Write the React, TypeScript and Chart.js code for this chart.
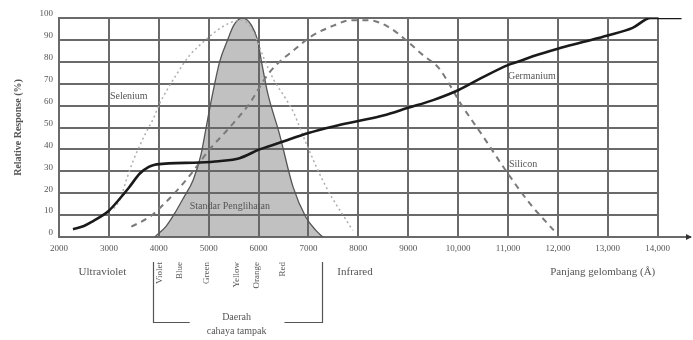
import React, { useEffect, useRef } from "react";
import { Chart, registerables } from "chart.js";

Chart.register(...registerables);

const FONT = "'Liberation Serif', 'DejaVu Serif', serif";
const TEXT = "#555";
const GRID = "#6a6a6a";

// axis ticks
const xTickValues = [2000, 3000, 4000, 5000, 6000, 7000, 8000, 9000, 10000, 11000, 12000, 13000, 14000];
const xTickLabels = ["2000", "3000", "4000", "5000", "6000", "7000", "8000", "9000", "10,000", "11,000", "12,000", "13,000", "14,000"];
const yTickValues = [0, 10, 20, 30, 40, 50, 60, 70, 80, 90, 100];

// Germanium (solid black)
const germaniumWavelength = [2280, 2500, 2700, 2850, 3000, 3200, 3400, 3620, 3800, 3920, 4200, 4820, 5200, 5620, 6020, 6420, 7000, 7500, 8000, 8500, 9000, 9500, 10000, 10500, 11000, 11200, 11500, 12000, 12500, 13000, 13500, 13860, 14480];
const germaniumResponse = [3.5, 5, 7.5, 9.5, 12, 17, 22.5, 29, 32, 33, 33.6, 34, 34.6, 36, 40, 43, 47.5, 50.5, 53, 55.5, 59, 62.5, 67, 73, 78.5, 80, 82.5, 86, 89, 92, 95.5, 100, 100];

// Silicon (dashed)
const siliconWavelength = [3450, 3820, 4220, 4620, 5020, 5420, 5820, 6150, 6350, 6690, 7050, 7500, 7850, 8200, 8600, 8950, 9300, 9620, 9820, 10050, 10500, 10950, 11450, 11920];
const siliconResponse = [4.7, 9.3, 17.7, 28, 40, 50, 61, 73, 78.5, 85, 91.5, 96.5, 99, 99, 96, 90, 83, 77, 70, 61, 46, 30.6, 15, 3];

// Selenium (dotted)
const seleniumWavelength = [3100, 3220, 3350, 3490, 3750, 3890, 4020, 4350, 4620, 4890, 5150, 5420, 5650, 5800, 5950, 6100, 6300, 6550, 6700, 6950, 7350, 7890];
const seleniumResponse = [13, 17, 26, 35, 48, 54, 61, 74, 83, 89, 94, 97.7, 99, 97, 91, 82, 72, 63, 57, 43, 23, 3];

// Standard eye response (filled)
const eyeWavelength = [3920, 4150, 4350, 4500, 4690, 4850, 4950, 5050, 5220, 5380, 5500, 5600, 5680, 5760, 5850, 5980, 6060, 6180, 6420, 6690, 6950, 7150, 7290];
const eyeResponse = [0, 5, 12, 18, 26, 38, 50, 62, 80, 90, 96.5, 99.3, 100, 99.3, 97, 90, 80, 66, 47, 23, 9, 3, 0];

// labels inside the plot
const curveLabelTexts = ["Selenium", "Germanium", "Silicon", "Standar Penglihatan"];
const curveLabelWavelengths = [3020, 11000, 11020, 4620];
const curveLabelResponses = [64, 73.5, 33, 14];

// visible spectrum labels
const visibleColors = ["Violet", "Blue", "Green", "Yellow", "Orange", "Red"];
const visibleColorWavelengths = [4020, 4420, 4960, 5560, 5960, 6480];

const toPoints = (xs: number[], ys: number[]) => xs.map((x, i) => ({ x, y: ys[i] }));

const decorPlugin = {
  id: "decor",
  beforeDatasetsDraw(chart: any) {
    const { ctx, scales } = chart;
    const x = scales.x;
    const y = scales.y;
    const x0 = x.getPixelForValue(xTickValues[0]);
    const x1 = x.getPixelForValue(xTickValues[xTickValues.length - 1]);
    ctx.save();
    ctx.strokeStyle = GRID;
    ctx.lineWidth = 2;
    for (const v of yTickValues) {
      if (v === 0) continue;
      const py = Math.round(y.getPixelForValue(v));
      ctx.beginPath();
      ctx.moveTo(x0 - 1, py);
      ctx.lineTo(x1 + 1, py);
      ctx.stroke();
    }
    ctx.restore();
  },
  afterDatasetsDraw(chart: any) {
    const { ctx, scales } = chart;
    const x = scales.x;
    const y = scales.y;
    ctx.save();
    ctx.fillStyle = TEXT;
    ctx.font = `10px ${FONT}`;
    ctx.textAlign = "left";
    ctx.textBaseline = "middle";
    curveLabelTexts.forEach((t, i) => {
      ctx.fillText(t, x.getPixelForValue(curveLabelWavelengths[i]), y.getPixelForValue(curveLabelResponses[i]));
    });
    ctx.restore();
  },
  afterDraw(chart: any) {
    const { ctx, scales, chartArea } = chart;
    const x = scales.x;
    const b = chartArea.bottom;
    ctx.save();
    // arrow at the end of the x axis
    const ax = chartArea.right;
    ctx.fillStyle = "#333";
    ctx.beginPath();
    ctx.moveTo(ax + 2, b);
    ctx.lineTo(ax - 4, b - 3);
    ctx.lineTo(ax - 4, b + 3);
    ctx.closePath();
    ctx.fill();

    ctx.fillStyle = TEXT;
    ctx.font = `11px ${FONT}`;
    ctx.textBaseline = "middle";
    ctx.textAlign = "center";
    ctx.fillText("Ultraviolet", x.getPixelForValue(2870), b + 35);
    ctx.textAlign = "left";
    ctx.fillText("Infrared", x.getPixelForValue(7580), b + 35);
    ctx.textAlign = "center";
    ctx.fillText("Panjang gelombang (\u00C5)", x.getPixelForValue(12900), b + 35);

    // rotated color names
    ctx.font = `9px ${FONT}`;
    visibleColors.forEach((c, i) => {
      ctx.save();
      ctx.translate(x.getPixelForValue(visibleColorWavelengths[i]), b + 25);
      ctx.rotate(-Math.PI / 2);
      ctx.textAlign = "right";
      ctx.textBaseline = "middle";
      ctx.fillText(c, 0, 0);
      ctx.restore();
    });

    // bracket
    const lx = Math.round(x.getPixelForValue(3880)) + 0.5;
    const rx = Math.round(x.getPixelForValue(7280)) + 0.5;
    const by = b + 85.5;
    ctx.strokeStyle = "#555";
    ctx.lineWidth = 1.2;
    ctx.beginPath();
    ctx.moveTo(lx, b + 25);
    ctx.lineTo(lx, by);
    ctx.lineTo(x.getPixelForValue(4620), by);
    ctx.moveTo(x.getPixelForValue(6520), by);
    ctx.lineTo(rx, by);
    ctx.lineTo(rx, b + 25);
    ctx.stroke();

    ctx.font = `10px ${FONT}`;
    ctx.textAlign = "center";
    ctx.fillText("Daerah", x.getPixelForValue(5560), b + 80);
    ctx.fillText("cahaya tampak", x.getPixelForValue(5560), b + 94);
    ctx.restore();
  },
};

export default function App() {
  const ref = useRef<HTMLCanvasElement | null>(null);
  useEffect(() => {
    if (!ref.current) return;
    Chart.defaults.font.family = FONT;
    const chart = new Chart(ref.current, {
      type: "line",
      data: {
        datasets: [
          {
            label: "Germanium",
            data: toPoints(germaniumWavelength, germaniumResponse),
            borderColor: "#1a1a1a",
            borderWidth: 2.6,
            pointRadius: 0,
            cubicInterpolationMode: "monotone",
            fill: false,
          },
          {
            label: "Silicon",
            data: toPoints(siliconWavelength, siliconResponse),
            borderColor: "#7a7a7a",
            borderWidth: 2,
            borderDash: [6, 5],
            pointRadius: 0,
            cubicInterpolationMode: "monotone",
            fill: false,
          },
          {
            label: "Selenium",
            data: toPoints(seleniumWavelength, seleniumResponse),
            borderColor: "#adadad",
            borderWidth: 1.5,
            borderDash: [2, 3],
            pointRadius: 0,
            cubicInterpolationMode: "monotone",
            fill: false,
          },
          {
            label: "Standar Penglihatan",
            data: toPoints(eyeWavelength, eyeResponse),
            borderColor: "#555",
            borderWidth: 1.3,
            backgroundColor: "rgba(100,100,100,0.4)",
            pointRadius: 0,
            cubicInterpolationMode: "monotone",
            fill: "origin",
          },
        ],
      } as any,
      options: {
        responsive: false,
        animation: false,
        devicePixelRatio: 1,
        layout: { padding: { top: 18, right: 3, left: 0, bottom: 0 } },
        plugins: {
          legend: { display: false },
          tooltip: { enabled: false },
        },
        scales: {
          x: {
            type: "linear",
            min: 2000,
            max: 14650,
            afterBuildTicks: (scale: any) => {
              scale.ticks = xTickValues.map((v) => ({ value: v }));
            },
            afterFit: (scale: any) => {
              scale.height = 103;
            },
            grid: { color: GRID, lineWidth: 2, drawTicks: false },
            border: { display: true, color: GRID, width: 2 },
            ticks: {
              padding: 6,
              color: TEXT,
              font: { size: 9, family: FONT },
              maxRotation: 0,
              autoSkip: false,
              callback: (value: any) => {
                const i = xTickValues.indexOf(Number(value));
                return i >= 0 ? xTickLabels[i] : "";
              },
            },
          },
          y: {
            min: 0,
            max: 100,
            afterBuildTicks: (scale: any) => {
              scale.ticks = yTickValues.map((v) => ({ value: v }));
            },
            afterFit: (scale: any) => {
              scale.width = 59;
            },
            grid: { display: false, drawTicks: false },
            border: { display: false },
            ticks: {
              padding: 6,
              color: TEXT,
              labelOffset: -4,
              font: { size: 9, family: FONT },
            },
            title: {
              display: true,
              text: "Relative Response (%)",
              color: TEXT,
              font: { size: 10, family: FONT, weight: "bold" },
              padding: { top: 12, bottom: 0 },
            },
          },
        },
      } as any,
      plugins: [decorPlugin],
    });
    return () => chart.destroy();
  }, []);
  return (
    <div style={{ position: "fixed", left: 0, top: 0, width: 693, height: 340, background: "#fff" }}>
      <canvas ref={ref} width={693} height={340} style={{ display: "block" }} />
    </div>
  );
}
